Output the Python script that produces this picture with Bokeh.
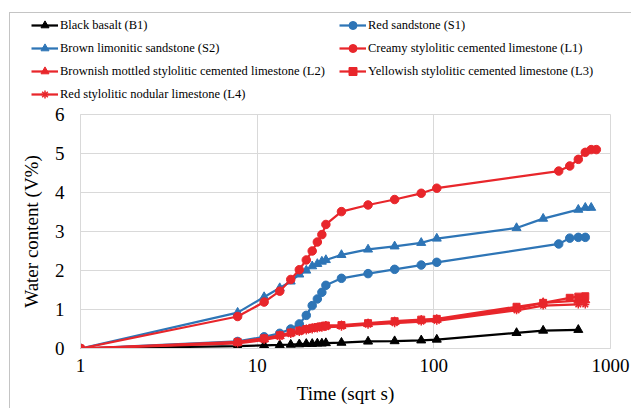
from bokeh.plotting import figure
from bokeh.layouts import column, row
from bokeh.models import (Range1d, FixedTicker, NumeralTickFormatter, Legend,
                          LegendItem)
from bokeh.embed import file_html
from bokeh.resources import INLINE

# ---- data (x = sqrt of time in seconds) ----
x_early = [1, 7.75, 10.95, 13.42, 15.49, 17.32, 18.97, 20.49, 21.91, 23.24,
           24.49, 30.0, 42.43, 60.0, 84.85, 103.92]

b1_x = x_early + [293.9, 415.7, 657.3]
b1_y = [0, 0.06, 0.08, 0.09, 0.10, 0.11, 0.12, 0.12, 0.13, 0.13, 0.14, 0.15,
        0.18, 0.19, 0.21, 0.23, 0.40, 0.46, 0.48]

s1_x = x_early + [509.1, 587.9, 657.3, 720.0]
s1_y = [0, 0.18, 0.30, 0.39, 0.50, 0.63, 0.85, 1.10, 1.27, 1.44, 1.62, 1.80,
        1.92, 2.03, 2.14, 2.21, 2.68, 2.83, 2.85, 2.85]

s2_x = x_early + [293.9, 415.7, 657.3, 720.0, 777.7]
s2_y = [0, 0.92, 1.32, 1.55, 1.72, 1.90, 2.00, 2.11, 2.17, 2.23, 2.27, 2.40,
        2.54, 2.62, 2.71, 2.82, 3.09, 3.33, 3.56, 3.61, 3.61]

l1_x = x_early + [509.1, 587.9, 657.3, 720.0, 777.7, 831.4]
l1_y = [0, 0.82, 1.19, 1.47, 1.77, 2.02, 2.27, 2.50, 2.73, 2.92, 3.18, 3.51,
        3.68, 3.82, 3.98, 4.11, 4.55, 4.68, 4.85, 5.03, 5.10, 5.10]

l2_x = x_early + [293.9, 415.7, 657.3, 720.0]
l2_y = [0, 0.15, 0.24, 0.32, 0.39, 0.44, 0.48, 0.51, 0.53, 0.55, 0.57, 0.58,
        0.63, 0.68, 0.72, 0.74, 1.02, 1.17, 1.23, 1.24]

l3_x = x_early + [293.9, 415.7, 587.9, 657.3, 720.0]
l3_y = [0, 0.17, 0.26, 0.34, 0.41, 0.46, 0.50, 0.53, 0.55, 0.57, 0.59, 0.60,
        0.65, 0.70, 0.74, 0.76, 1.07, 1.17, 1.30, 1.33, 1.34]

l4_x = x_early + [293.9, 415.7, 657.3, 720.0]
l4_y = [0, 0.13, 0.22, 0.30, 0.37, 0.42, 0.46, 0.49, 0.51, 0.53, 0.55, 0.56,
        0.61, 0.65, 0.69, 0.71, 0.98, 1.10, 1.13, 1.13]

labels = ["Black basalt (B1)", "Red sandstone (S1)",
          "Brown limonitic sandstone (S2)",
          "Creamy stylolitic cemented limestone (L1)",
          "Brownish mottled stylolitic cemented limestone (L2)",
          "Yellowish stylolitic cemented limestone (L3)",
          "Red stylolitic nodular limestone (L4)"]

x_ticks = [1, 10, 100, 1000]
y_ticks = [0, 1, 2, 3, 4, 5, 6]

BLUE = "#2E75B6"
RED = "#E8262B"
BLACK = "#000000"
GRID = "#d9d9d9"
FONT = "'Liberation Serif', 'Times New Roman', serif"

series = [
    (b1_x, b1_y, BLACK, "triangle", 9),
    (s1_x, s1_y, BLUE, "circle", 8.5),
    (s2_x, s2_y, BLUE, "triangle", 9),
    (l1_x, l1_y, RED, "circle", 8.5),
    (l2_x, l2_y, RED, "triangle", 9),
    (l3_x, l3_y, RED, "square", 7),
    (l4_x, l4_y, RED, "asterisk", 8),
]


def add_series(fig, xs, ys, color, marker, size):
    lr = fig.line(xs, ys, line_color=color, line_width=2.25)
    sr = fig.scatter(xs, ys, marker=marker, size=size, fill_color=color,
                     line_color=color,
                     line_width=1.5 if marker == "asterisk" else 1)
    return lr, sr


# ---------------- main chart ----------------
p = figure(width=621, height=304, x_axis_type="log",
           x_range=Range1d(1, 1000), y_range=Range1d(0, 6),
           output_backend="svg", toolbar_location=None,
           min_border_left=70, min_border_right=21,
           min_border_top=10, min_border_bottom=60)
p.outline_line_color = GRID

p.xaxis.ticker = FixedTicker(ticks=x_ticks, minor_ticks=[])
p.xaxis.formatter = NumeralTickFormatter(format="0")
p.yaxis.ticker = FixedTicker(ticks=y_ticks, minor_ticks=[])
for ax in (p.xaxis, p.yaxis):
    ax.axis_line_color = GRID
    ax.major_tick_line_color = None
    ax.minor_tick_line_color = None
    ax.major_tick_out = 0
    ax.major_tick_in = 0
    ax.major_label_text_font = FONT
    ax.major_label_text_font_size = "19px"
    ax.major_label_text_color = "#000000"
    ax.axis_label_text_font = FONT
    ax.axis_label_text_font_size = "19px"
    ax.axis_label_text_font_style = "normal"
    ax.axis_label_text_color = "#000000"
p.xaxis.axis_label = "Time (sqrt s)"
p.yaxis.axis_label = "Water content (V%)"
p.xaxis.major_label_standoff = 10
p.xaxis.axis_label_standoff = 8
p.yaxis.major_label_standoff = 16
p.yaxis.axis_label_standoff = 10

p.xgrid.grid_line_color = GRID
p.ygrid.grid_line_color = GRID
p.xgrid.ticker = FixedTicker(ticks=x_ticks)
p.ygrid.ticker = FixedTicker(ticks=y_ticks)

for xs, ys, color, marker, size in series:
    add_series(p, xs, ys, color, marker, size)

# ---------------- legend strip ----------------
# same series drawn out of view; only the legend is visible here
lf = figure(width=621, height=91, x_range=Range1d(-10, -5),
            y_range=Range1d(-10, -5),
            x_axis_location=None, y_axis_location=None,
            output_backend="svg", toolbar_location=None,
            min_border_left=0, min_border_right=0,
            min_border_top=0, min_border_bottom=0)
lf.grid.visible = False
lf.outline_line_color = None
lf.background_fill_alpha = 0
lf.border_fill_alpha = 0

items = []
for (xs, ys, color, marker, size), label in zip(series, labels):
    lr, sr = add_series(lf, xs, ys, color, marker, size)
    items.append(LegendItem(label=label, renderers=[lr, sr]))


def make_legend(its, loc):
    lg = Legend(items=its, location=loc, orientation="vertical")
    lg.glyph_width = 27
    lg.glyph_height = 20
    lg.label_height = 20
    lg.spacing = 3
    lg.padding = 0
    lg.margin = 0
    lg.label_standoff = 2
    lg.border_line_alpha = 0
    lg.background_fill_alpha = 0
    lg.label_text_font = FONT
    lg.label_text_font_size = "12.5px"
    lg.label_text_color = "#000000"
    return lg


lf.add_layout(make_legend([items[0], items[2], items[4], items[6]], (21, 0)))
lf.add_layout(make_legend([items[1], items[3], items[5]], (329, 23)))

layout = column(row(lf, spacing=0), p, spacing=0,
                styles={"margin-left": "9px", "margin-top": "12px",
                        "border-left": "1px solid #c4c4c4",
                        "border-top": "1px solid #c4c4c4"})

open("out.html", "w").write(file_html(layout, INLINE))
